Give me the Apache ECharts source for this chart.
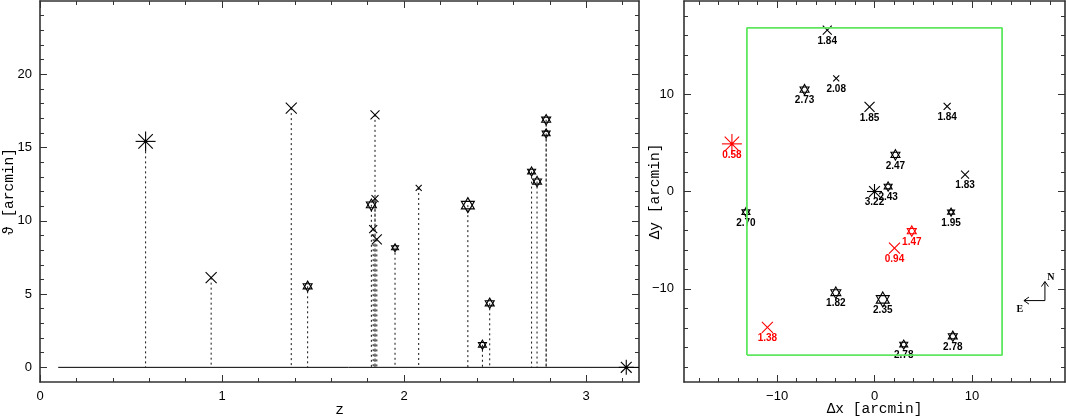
<!DOCTYPE html>
<html>
<head>
<meta charset="utf-8">
<title>Sources around the target</title>
<script src="https://cdn.jsdelivr.net/npm/echarts@6.0.0/dist/echarts.min.js"></script>
<style>
  html, body { margin: 0; padding: 0; background: #fff; }
  #chart { width: 1066px; height: 419px; }
</style>
</head>
<body>
<div id="chart"></div>
<script>
// redshift of each source (also printed under it in the sky map)
const zValues = [0.58, 0.94, 1.38, 1.47, 1.84, 1.82, 1.84, 1.83, 1.85, 1.95, 2.08, 2.35, 2.43, 2.47, 2.70, 2.73, 2.78, 2.78, 3.22];
// angular distance from the target [arcmin], left panel
const thetaValues = [15.42, 6.12, 17.69, 5.53, 17.23, 11.09, 11.52, 9.43, 8.73, 8.16, 12.24, 11.07, 1.54, 4.37, 13.36, 12.68, 16.90, 15.96, 0];
// offsets on the sky [arcmin], right panel
const dxValues = [-14.64, 2.05, -11.0, 3.83, -4.85, -3.97, 7.46, 9.30, -0.51, 7.86, -3.93, 0.85, 1.40, 2.15, -13.2, -7.18, 8.04, 3.00, 0];
const dyValues = [4.89, -5.81, -13.95, -4.07, 16.58, -10.39, 8.75, 1.74, 8.69, -2.12, 11.62, -11.08, 0.51, 3.76, -2.12, 10.46, -14.87, -15.72, 0];
const sourceKinds = ['asterisk', 'cross', 'cross', 'star', 'cross', 'star', 'cross', 'cross', 'cross', 'star',
  'cross', 'star', 'star', 'star', 'star', 'star', 'star', 'star', 'asterisk'];

// sources closer than this are drawn in red on the sky map
const foregroundLimit = 1.5;

// field of view (green box) and the baseline of the left panel
const fieldX = [-13.1, 13.1];
const fieldY = [-16.8, 16.8];
const baselineZ = [0.1, 3.29];

// axes
const zRange = [0, 3.29];
const thetaRange = [-1, 25];
const skyRange = [-19.56, 19.56];
const zMajorTicks = [0, 1, 2, 3];
const zMinorTicks = [0.2, 0.4, 0.6, 0.8, 1.2, 1.4, 1.6, 1.8, 2.2, 2.4, 2.6, 2.8, 3.2];
const thetaMajorTicks = [0, 5, 10, 15, 20];
const thetaMinorTicks = [1, 2, 3, 4, 6, 7, 8, 9, 11, 12, 13, 14, 16, 17, 18, 19, 21, 22, 23, 24];
const skyMajorTicks = [-10, 0, 10];
const skyMinorTicks = [-18, -16, -14, -12, -8, -6, -4, -2, 2, 4, 6, 8, 12, 14, 16, 18];

// styling
const markerSizes = [20, 11, 11, 9, 9, 10, 7, 8, 10, 7, 6, 13, 8, 9, 8, 9, 9, 8, 15];
const compassAnchor = [17.5, -11.2];
const frameColor = '#333';
const tickFont = '"Liberation Sans", Arial, sans-serif';
const nameFont = '"Liberation Mono", "DejaVu Sans Mono", monospace';

function axisSet(dim, gridIndex, range, majors, minors, opts) {
  const sides = dim === 'x' ? ['bottom', 'top'] : ['left', 'right'];
  const base = (position, ticks, len, withLine, withLabel) => ({
    type: 'value',
    gridIndex: gridIndex,
    position: position,
    min: range[0],
    max: range[1],
    name: withLabel ? opts.name : '',
    nameLocation: 'middle',
    nameGap: opts.nameGap,
    nameMoveOverlap: false,
    nameTextStyle: { fontFamily: nameFont, fontSize: 14.5, color: '#000' },
    axisLine: { show: withLine, onZero: false, lineStyle: { color: frameColor, width: 1.6 } },
    axisTick: { show: true, inside: true, length: len, customValues: ticks,
      lineStyle: { color: frameColor, width: 1 } },
    axisLabel: { show: withLabel, customValues: ticks, margin: opts.margin,
      fontFamily: tickFont, fontSize: 13, color: '#000',
      formatter: v => String(v).replace('-', '\u2212') },
    splitLine: { show: false }
  });
  return [
    base(sides[0], majors, 7, true, true),
    base(sides[0], minors, 4, false, false),
    base(sides[1], majors, 7, true, false),
    base(sides[1], minors, 4, false, false)
  ];
}

function markerChildren(kind, cx, cy, w, color) {
  const r = w / 2;
  const seg = (x1, y1, x2, y2) => ({ type: 'line', shape: { x1, y1, x2, y2 },
    style: { stroke: color, lineWidth: 1.1 } });
  if (kind === 'cross') {
    return [seg(cx - r, cy - r, cx + r, cy + r), seg(cx - r, cy + r, cx + r, cy - r)];
  }
  if (kind === 'asterisk') {
    const d = r * 0.72;
    return [
      seg(cx - r, cy, cx + r, cy), seg(cx, cy - r, cx, cy + r),
      seg(cx - d, cy - d, cx + d, cy + d), seg(cx - d, cy + d, cx + d, cy - d),
      { type: 'circle', shape: { cx, cy, r: 1.6 }, style: { fill: color } }
    ];
  }
  const R = w / Math.sqrt(3);
  const tri = pts => ({ type: 'polygon', shape: { points: pts },
    style: { fill: 'none', stroke: color, lineWidth: 1.1 } });
  return [
    tri([[cx, cy - R], [cx + r, cy + R / 2], [cx - r, cy + R / 2]]),
    tri([[cx, cy + R], [cx + r, cy - R / 2], [cx - r, cy - R / 2]])
  ];
}

const chart = echarts.init(document.getElementById('chart'));

const xAxes = [].concat(
  axisSet('x', 0, zRange, zMajorTicks, zMinorTicks, { name: 'z', nameGap: 21, margin: 8 }),
  axisSet('x', 1, skyRange, skyMajorTicks, skyMinorTicks, { name: '\u0394x [arcmin]', nameGap: 20, margin: 8 })
);
const yAxes = [].concat(
  axisSet('y', 0, thetaRange, thetaMajorTicks, thetaMinorTicks, { name: '\u03d1 [arcmin]', nameGap: 23, margin: 8 }),
  axisSet('y', 1, skyRange, skyMajorTicks, skyMinorTicks, { name: '\u0394y [arcmin]', nameGap: 21, margin: 10 })
);

const option = {
  animation: false,
  backgroundColor: '#fff',
  grid: [
    { left: 40, top: 1, width: 599, height: 381, containLabel: false, outerBoundsMode: 'none' },
    { left: 684, top: 1, width: 381, height: 381, containLabel: false, outerBoundsMode: 'none' }
  ],
  xAxis: xAxes,
  yAxis: yAxes,
  series: [
    {
      type: 'line',
      xAxisIndex: 0, yAxisIndex: 0,
      data: baselineZ.map(z => [z, 0]),
      symbol: 'none',
      lineStyle: { color: '#000', width: 1 },
      silent: true
    },
    {
      type: 'custom',
      xAxisIndex: 0, yAxisIndex: 0,
      data: zValues.map((z, i) => [z, thetaValues[i]]),
      encode: { x: 0, y: 1 },
      renderItem: (params, api) => {
        const i = params.dataIndex;
        const p = api.coord([api.value(0), api.value(1)]);
        const base = api.coord([api.value(0), 0]);
        const drop = { type: 'line', shape: { x1: p[0], y1: p[1], x2: base[0], y2: base[1] },
          style: { stroke: '#111', lineWidth: 1, lineDash: [2, 3] } };
        return { type: 'group',
          children: [drop].concat(markerChildren(sourceKinds[i], p[0], p[1], markerSizes[i], '#000')) };
      }
    },
    {
      type: 'line',
      xAxisIndex: 4, yAxisIndex: 4,
      data: [[fieldX[0], fieldY[0]], [fieldX[1], fieldY[0]], [fieldX[1], fieldY[1]],
             [fieldX[0], fieldY[1]], [fieldX[0], fieldY[0]]],
      symbol: 'none',
      lineStyle: { color: '#5fe85f', width: 1.8 },
      silent: true
    },
    {
      type: 'custom',
      xAxisIndex: 4, yAxisIndex: 4,
      data: dxValues.map((x, i) => [x, dyValues[i], zValues[i]]),
      encode: { x: 0, y: 1 },
      renderItem: (params, api) => {
        const i = params.dataIndex;
        const p = api.coord([api.value(0), api.value(1)]);
        const z = api.value(2);
        const color = z < foregroundLimit ? '#ff0000' : '#000';
        const label = { type: 'text', x: p[0], y: p[1] + 11,
          style: { text: z.toFixed(2), fill: color, align: 'center', verticalAlign: 'middle',
            font: 'bold 10px ' + tickFont } };
        return { type: 'group',
          children: markerChildren(sourceKinds[i], p[0], p[1], markerSizes[i], color).concat([label]) };
      }
    },
    {
      type: 'custom',
      xAxisIndex: 4, yAxisIndex: 4,
      data: [compassAnchor],
      encode: { x: 0, y: 1 },
      renderItem: (params, api) => {
        const c = api.coord([api.value(0), api.value(1)]);
        const st = { stroke: '#000', lineWidth: 1 };
        const seg = (x1, y1, x2, y2) => ({ type: 'line', shape: { x1, y1, x2, y2 }, style: st });
        const txt = (t, x, y) => ({ type: 'text', x, y,
          style: { text: t, fill: '#000', align: 'center', verticalAlign: 'middle',
            font: 'bold 10px "Liberation Serif", serif' } });
        return { type: 'group', children: [
          seg(c[0], c[1], c[0], c[1] - 19),
          seg(c[0], c[1] - 19, c[0] - 3.5, c[1] - 14),
          seg(c[0], c[1] - 19, c[0] + 3.5, c[1] - 14),
          seg(c[0], c[1], c[0] - 21, c[1]),
          seg(c[0] - 21, c[1], c[0] - 16, c[1] - 3.5),
          seg(c[0] - 21, c[1], c[0] - 16, c[1] + 3.5),
          txt('N', c[0] + 6, c[1] - 23),
          txt('E', c[0] - 25, c[1] + 9)
        ] };
      }
    }
  ]
};

chart.setOption(option);
</script>
</body>
</html>
